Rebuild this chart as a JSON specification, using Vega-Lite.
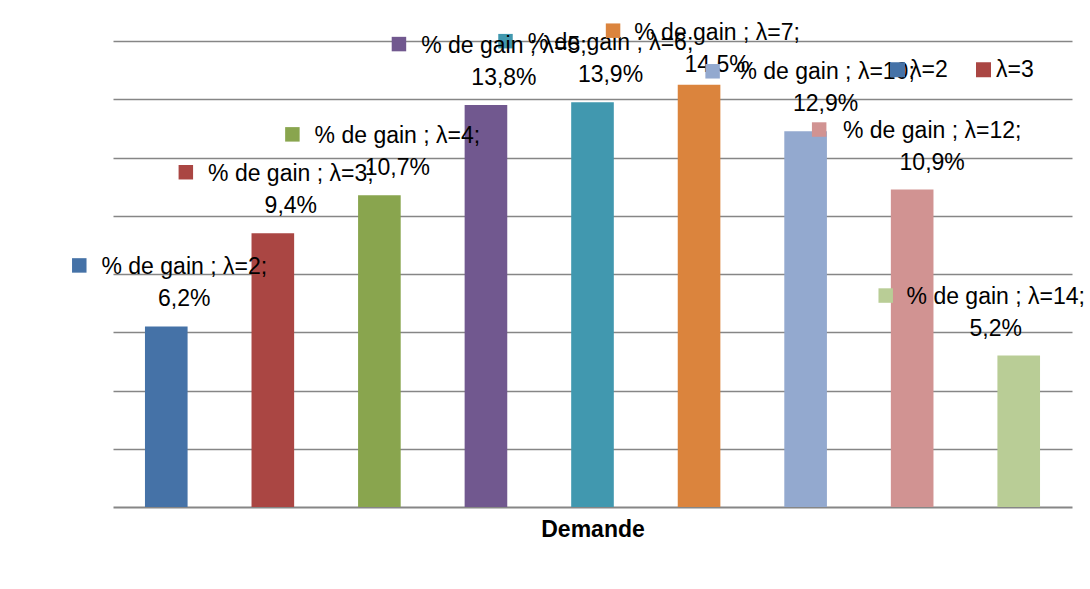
{
  "$schema": "https://vega.github.io/schema/vega-lite/v6.json",
  "autosize": "none",
  "width": 959,
  "height": 466,
  "padding": {"left": 113, "top": 41, "right": 18, "bottom": 82},
  "background": "white",
  "config": {"view": {"stroke": null}, "font": "Liberation Sans"},
  "data": {
    "values": [
      {"lambda": "λ=2", "gain": 6.2, "label": "% de gain ; λ=2;\n6,2%"},
      {"lambda": "λ=3", "gain": 9.4, "label": "% de gain ; λ=3;\n9,4%"},
      {"lambda": "λ=4", "gain": 10.7, "label": "% de gain ; λ=4;\n10,7%"},
      {"lambda": "λ=5", "gain": 13.8, "label": "% de gain ; λ=5;\n13,8%"},
      {"lambda": "λ=6", "gain": 13.9, "label": "% de gain ; λ=6;\n13,9%"},
      {"lambda": "λ=7", "gain": 14.5, "label": "% de gain ; λ=7;\n14,5%"},
      {"lambda": "λ=10", "gain": 12.9, "label": "% de gain ; λ=10;\n12,9%"},
      {"lambda": "λ=12", "gain": 10.9, "label": "% de gain ; λ=12;\n10,9%"},
      {"lambda": "λ=14", "gain": 5.2, "label": "% de gain ; λ=14;\n5,2%"}
    ]
  },
  "encoding": {
    "x": {
      "field": "lambda", "type": "nominal",
      "sort": ["λ=2", "λ=3", "λ=4", "λ=5", "λ=6", "λ=7", "λ=10", "λ=12", "λ=14"],
      "scale": {"paddingInner": 0.6, "paddingOuter": 0.3},
      "axis": {
        "title": "Demande", "labels": false, "ticks": false,
        "domainColor": "#868686", "domainWidth": 2,
        "titleFontSize": 23, "titleFontWeight": "bold", "titleFont": "Liberation Sans",
        "titleColor": "black", "titlePadding": 11
      }
    },
    "y": {
      "field": "gain", "type": "quantitative",
      "scale": {"domain": [0, 16]},
      "axis": {
        "title": null, "labels": false, "ticks": false, "domain": false,
        "values": [2, 4, 6, 8, 10, 12, 14, 16],
        "gridColor": "#868686", "gridWidth": 1.5
      }
    }
  },
  "layer": [
    {
      "mark": {"type": "bar"},
      "encoding": {
        "color": {
          "field": "lambda", "type": "nominal",
          "scale": {
            "domain": ["λ=2", "λ=3", "λ=4", "λ=5", "λ=6", "λ=7", "λ=10", "λ=12", "λ=14"],
            "range": ["#4572A7", "#AA4643", "#89A54E", "#71588F", "#4198AF", "#DB843D", "#93A9CF", "#D19392", "#B9CD96"]
          },
          "legend": {
            "orient": "none", "legendX": 773, "legendY": 17,
            "direction": "horizontal", "title": null,
            "values": ["λ=2", "λ=3"],
            "symbolType": "square", "symbolSize": 225, "symbolStrokeWidth": 0,
            "labelFontSize": 23, "labelFont": "Liberation Sans", "labelColor": "black",
            "labelOffset": 1, "columnPadding": 24, "padding": 0
          }
        }
      }
    },
    {
      "transform": [{"filter": "indexof(['λ=2','λ=3','λ=4','λ=5','λ=6'], datum.lambda) >= 0"}],
      "layer": [
        {
          "mark": {"type": "square", "size": 210, "filled": true, "opacity": 1, "xOffset": -87, "yOffset": -61},
          "encoding": {"color": {"field": "lambda", "type": "nominal", "legend": null}}
        },
        {
          "mark": {"type": "text", "fontSize": 23, "lineHeight": 32, "align": "center", "baseline": "middle", "lineBreak": "\n", "xOffset": 18, "yOffset": -59, "color": "black"},
          "encoding": {"text": {"field": "label"}}
        }
      ]
    },
    {
      "transform": [{"filter": "datum.lambda == 'λ=7'"}],
      "layer": [
        {
          "mark": {"type": "square", "size": 210, "filled": true, "opacity": 1, "xOffset": -86, "yOffset": -54},
          "encoding": {"color": {"field": "lambda", "type": "nominal", "legend": null}}
        },
        {
          "mark": {"type": "text", "fontSize": 23, "lineHeight": 32, "align": "center", "baseline": "middle", "lineBreak": "\n", "xOffset": 18, "yOffset": -52, "color": "black"},
          "encoding": {"text": {"field": "label"}}
        }
      ]
    },
    {
      "transform": [{"filter": "datum.lambda == 'λ=10' || datum.lambda == 'λ=12'"}],
      "layer": [
        {
          "mark": {"type": "square", "size": 210, "filled": true, "opacity": 1, "xOffset": -93, "yOffset": -60},
          "encoding": {"color": {"field": "lambda", "type": "nominal", "legend": null}}
        },
        {
          "mark": {"type": "text", "fontSize": 23, "lineHeight": 32, "align": "center", "baseline": "middle", "lineBreak": "\n", "xOffset": 20, "yOffset": -59, "color": "black"},
          "encoding": {"text": {"field": "label"}}
        }
      ]
    },
    {
      "transform": [{"filter": "datum.lambda == 'λ=14'"}],
      "layer": [
        {
          "mark": {"type": "square", "size": 210, "filled": true, "opacity": 1, "xOffset": -133, "yOffset": -60},
          "encoding": {"color": {"field": "lambda", "type": "nominal", "legend": null}}
        },
        {
          "mark": {"type": "text", "fontSize": 23, "lineHeight": 32, "align": "center", "baseline": "middle", "lineBreak": "\n", "xOffset": -23, "yOffset": -59, "color": "black"},
          "encoding": {"text": {"field": "label"}}
        }
      ]
    }
  ]
}
